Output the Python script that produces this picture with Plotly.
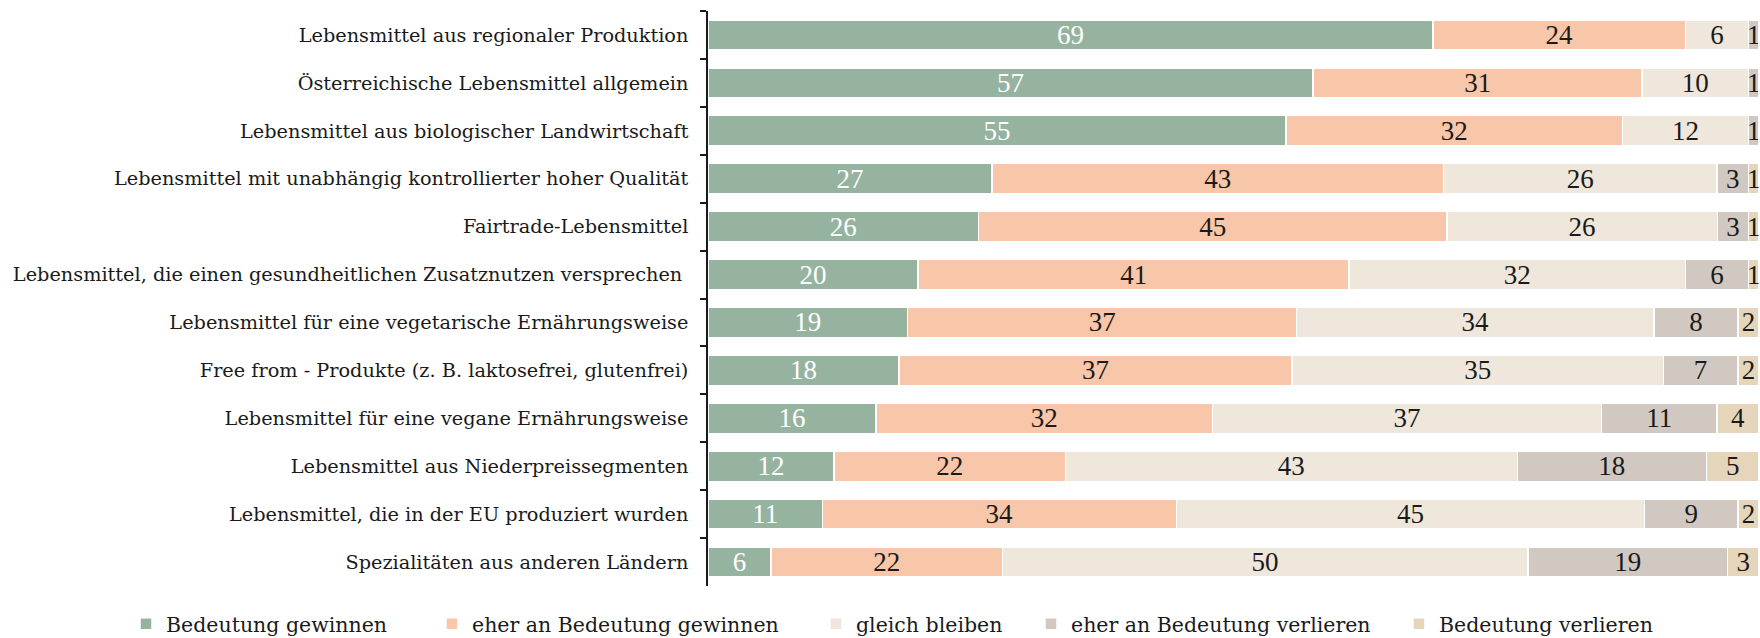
import plotly.graph_objects as go

categories = [
    "Lebensmittel aus regionaler Produktion",
    "Österreichische Lebensmittel allgemein",
    "Lebensmittel aus biologischer Landwirtschaft",
    "Lebensmittel mit unabhängig kontrollierter hoher Qualität",
    "Fairtrade-Lebensmittel",
    "Lebensmittel, die einen gesundheitlichen Zusatznutzen versprechen ",
    "Lebensmittel für eine vegetarische Ernährungsweise",
    "Free from - Produkte (z. B. laktosefrei, glutenfrei)",
    "Lebensmittel für eine vegane Ernährungsweise",
    "Lebensmittel aus Niederpreissegmenten",
    "Lebensmittel, die in der EU produziert wurden",
    "Spezialitäten aus anderen Ländern",
]

bedeutung_gewinnen = [69, 57, 55, 27, 26, 20, 19, 18, 16, 12, 11, 6]
eher_gewinnen = [24, 31, 32, 43, 45, 41, 37, 37, 32, 22, 34, 22]
gleich_bleiben = [6, 10, 12, 26, 26, 32, 34, 35, 37, 43, 45, 50]
eher_verlieren = [1, 1, 1, 3, 3, 6, 8, 7, 11, 18, 9, 19]
bedeutung_verlieren = [0, 0, 0, 1, 1, 1, 2, 2, 4, 5, 2, 3]

series = [
    ("Bedeutung gewinnen", bedeutung_gewinnen, "#96b3a0", "#ffffff"),
    ("eher an Bedeutung gewinnen", eher_gewinnen, "#f8c6a8", "#1a1a1a"),
    ("gleich bleiben", gleich_bleiben, "#efe7dc", "#1a1a1a"),
    ("eher an Bedeutung verlieren", eher_verlieren, "#d1c9c1", "#1a1a1a"),
    ("Bedeutung verlieren", bedeutung_verlieren, "#e5d5ba", "#1a1a1a"),
]

LABEL_FONT = "DejaVu Serif"
NUM_FONT = "Liberation Serif"

# legend positions (left edge of each legend box, px from left of page)
legend_px = [126, 432, 816, 1031, 1399]
legend_names = ["legend", "legend2", "legend3", "legend4", "legend5"]

fig = go.Figure()
for (name, vals, color, tcolor), lg in zip(series, legend_names):
    fig.add_trace(go.Bar(
        name=name,
        y=categories,
        x=vals,
        orientation="h",
        marker=dict(color=color, line=dict(color="white", width=1.5)),
        text=[str(v) if v else "" for v in vals],
        textposition="inside",
        insidetextanchor="middle",
        textangle=0,
        textfont=dict(family=NUM_FONT, size=27, color=tcolor),
        constraintext="none",
        cliponaxis=False,
        hoverinfo="skip",
        legend=lg,
        showlegend=True,
    ))

legend_layout = {}
for lg, px in zip(legend_names, legend_px):
    legend_layout[lg] = dict(
        orientation="h",
        xref="container",
        yref="container",
        x=px / 1760,
        y=1 - 624 / 638,
        xanchor="left",
        yanchor="middle",
        font=dict(family=LABEL_FONT, size=20.5, color="#1a1a1a"),
        itemwidth=30,
        bgcolor="rgba(0,0,0,0)",
        visible=True,
    )

fig.update_layout(
    showlegend=True,
    barmode="stack",
    barnorm="percent",
    bargap=0.37,
    width=1760,
    height=638,
    margin=dict(l=708, r=1, t=11, b=52, autoexpand=False),
    plot_bgcolor="white",
    paper_bgcolor="white",
    font=dict(family=LABEL_FONT, size=19.3, color="#1a1a1a"),
    uniformtext=dict(minsize=27, mode="show"),
    xaxis=dict(visible=False, range=[0, 100], fixedrange=True),
    yaxis=dict(
        autorange="reversed",
        showline=True,
        linecolor="#1a1a1a",
        linewidth=1.5,
        ticks="outside",
        tickson="boundaries",
        ticklen=6,
        tickwidth=1.5,
        tickcolor="#1a1a1a",
        ticklabelstandoff=14,
        tickfont=dict(family=LABEL_FONT, size=19.3, color="#1a1a1a"),
        showgrid=False,
        fixedrange=True,
    ),
    **legend_layout,
)

fig.write_html(
    "out.html",
    config={"displayModeBar": False},
    post_script="document.body.style.margin='0';document.body.style.padding='0';",
)
